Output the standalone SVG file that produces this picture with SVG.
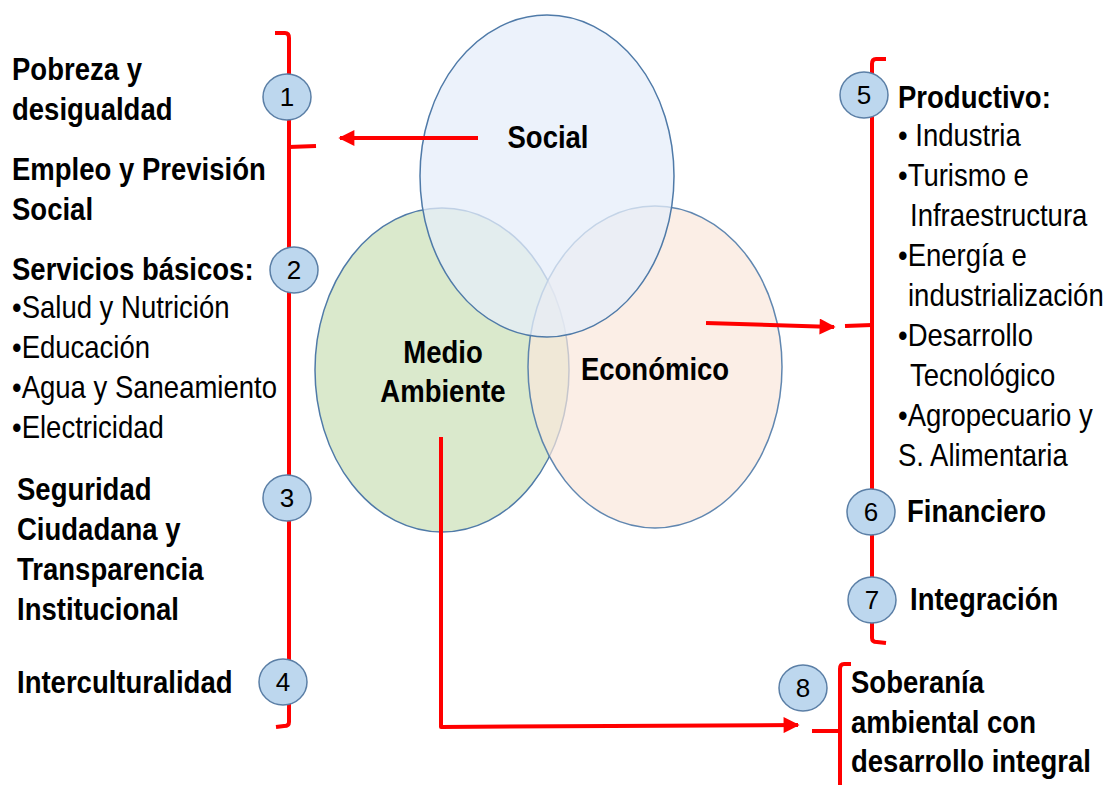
<svg xmlns="http://www.w3.org/2000/svg" width="1109" height="785" viewBox="0 0 1109 785">
<defs>
<style>
.t{font-family:"Liberation Sans",Arial,sans-serif;font-size:32px;fill:#000}
.b{font-weight:bold}
.c{text-anchor:middle}
.red{fill:none;stroke:#ff0000;stroke-width:4;stroke-linejoin:round}
.num{fill:#bdd7ee;stroke:#5b7fa6;stroke-width:1.5}
.nt{font-family:"Liberation Sans",Arial,sans-serif;font-size:26px;fill:#000;text-anchor:middle}
.ell{stroke:#4f7aa8;stroke-width:1.5}
</style>
<marker id="ah" viewBox="0 0 10 10" refX="9" refY="5" markerWidth="5" markerHeight="4" orient="auto" markerUnits="strokeWidth">
<path d="M0,0 L10,5 L0,10 z" fill="#ff0000"/>
</marker>
</defs>
<rect width="1109" height="785" fill="#ffffff"/>

<g id="venn">
<g id="medio-ambiente">
<ellipse class="ell" cx="442" cy="370" rx="127" ry="162" fill="#dae9cc"/>
</g>
<g id="economico">
<ellipse class="ell" cx="655" cy="367" rx="127" ry="161" fill="#f9e7dc" fill-opacity="0.7" stroke-opacity="0.9"/>
</g>
<g id="social">
<ellipse class="ell" cx="547" cy="176" rx="127" ry="161" fill="#e6eef9" fill-opacity="0.75"/>
</g>
<text class="t b c" transform="translate(548,148) scale(0.86,1)">Social</text>
<text class="t b c" transform="translate(443,363) scale(0.86,1)">Medio</text>
<text class="t b c" transform="translate(443,402) scale(0.86,1)">Ambiente</text>
<text class="t b c" transform="translate(655,380) scale(0.86,1)">Económico</text>
</g>

<g id="connectors">
<path class="red" d="M478,138 L340,138" marker-end="url(#ah)"/>
<path class="red" d="M706,323 L834,327" marker-end="url(#ah)"/>
<path class="red" d="M441,437 L441,727 L798,725" marker-end="url(#ah)"/>
<path class="red" d="M275,33 L285,33 Q289,33 289,38 L289,722 Q289,726 284,726 L276,727"/>
<path class="red" d="M289,147 L316,146"/>
<path class="red" d="M886,59 L876,59 Q872,59 872,64 L872,638 Q872,642 877,642 L886,643"/>
<path class="red" d="M872,325 L845,326"/>
<path class="red" d="M851,664 L844,664 Q840,664 840,669 L840,785"/>
<path class="red" d="M840,731 L812,731"/>
</g>

<g id="n1"><ellipse class="num" cx="287" cy="97" rx="24" ry="23"/><text class="nt" x="287" y="106">1</text></g>
<g id="n2"><ellipse class="num" cx="294" cy="270" rx="24" ry="23"/><text class="nt" x="294" y="279">2</text></g>
<g id="n3"><ellipse class="num" cx="287" cy="498" rx="24" ry="23"/><text class="nt" x="287" y="507">3</text></g>
<g id="n4"><ellipse class="num" cx="283" cy="682" rx="24" ry="23"/><text class="nt" x="283" y="691">4</text></g>
<g id="n5"><ellipse class="num" cx="864" cy="95" rx="24" ry="23"/><text class="nt" x="864" y="104">5</text></g>
<g id="n6"><ellipse class="num" cx="871" cy="512" rx="24" ry="23"/><text class="nt" x="871" y="521">6</text></g>
<g id="n7"><ellipse class="num" cx="872" cy="600" rx="24" ry="23"/><text class="nt" x="872" y="609">7</text></g>
<g id="n8"><ellipse class="num" cx="803" cy="688" rx="24" ry="23"/><text class="nt" x="803" y="697">8</text></g>

<g id="left-texts">
<text class="t b" transform="translate(12,80) scale(0.86,1)">Pobreza y</text>
<text class="t b" transform="translate(12,120) scale(0.86,1)">desigualdad</text>
<text class="t b" transform="translate(12,180) scale(0.86,1)">Empleo y Previsión</text>
<text class="t b" transform="translate(12,220) scale(0.86,1)">Social</text>
<text class="t b" transform="translate(12,280) scale(0.86,1)">Servicios básicos:</text>
<text class="t" transform="translate(12,318) scale(0.86,1)">•Salud y Nutrición</text>
<text class="t" transform="translate(12,358) scale(0.86,1)">•Educación</text>
<text class="t" transform="translate(12,398) scale(0.86,1)">•Agua y Saneamiento</text>
<text class="t" transform="translate(12,438) scale(0.86,1)">•Electricidad</text>
<text class="t b" transform="translate(17,500) scale(0.86,1)">Seguridad</text>
<text class="t b" transform="translate(17,540) scale(0.86,1)">Ciudadana y</text>
<text class="t b" transform="translate(17,580) scale(0.86,1)">Transparencia</text>
<text class="t b" transform="translate(17,620) scale(0.86,1)">Institucional</text>
<text class="t b" transform="translate(17,693) scale(0.86,1)">Interculturalidad</text>
</g>

<g id="right-texts">
<text class="t b" transform="translate(898,108) scale(0.86,1)">Productivo:</text>
<text class="t" transform="translate(898,146) scale(0.86,1)">• Industria</text>
<text class="t" transform="translate(898,186) scale(0.86,1)">•Turismo e</text>
<text class="t" transform="translate(910,226) scale(0.86,1)">Infraestructura</text>
<text class="t" transform="translate(898,266) scale(0.86,1)">•Energía e</text>
<text class="t" transform="translate(908,306) scale(0.86,1)">industrialización</text>
<text class="t" transform="translate(898,346) scale(0.86,1)">•Desarrollo</text>
<text class="t" transform="translate(910,386) scale(0.86,1)">Tecnológico</text>
<text class="t" transform="translate(898,426) scale(0.86,1)">•Agropecuario y</text>
<text class="t" transform="translate(898,466) scale(0.86,1)">S. Alimentaria</text>
<text class="t b" transform="translate(907,522) scale(0.86,1)">Financiero</text>
<text class="t b" transform="translate(910,610) scale(0.86,1)">Integración</text>
<text class="t b" transform="translate(851,693) scale(0.86,1)">Soberanía</text>
<text class="t b" transform="translate(851,733) scale(0.86,1)">ambiental con</text>
<text class="t b" transform="translate(851,772) scale(0.86,1)">desarrollo integral</text>
</g>
</svg>
